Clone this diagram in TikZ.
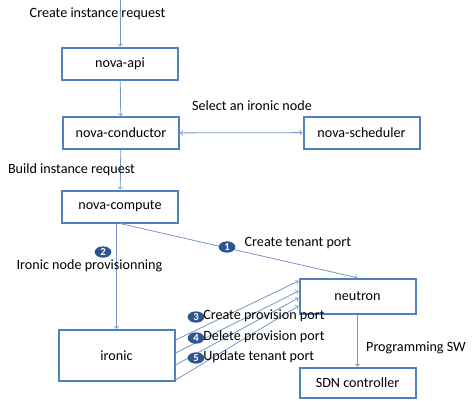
\documentclass[tikz,border=0pt]{standalone}
\usepackage{fontspec}
\setmainfont{Carlito}
\usepackage{tikz}
\usetikzlibrary{shapes.geometric}
\definecolor{boxblue}{RGB}{79, 129, 189}
\definecolor{arrowblue}{RGB}{120, 150, 200}
\definecolor{badgeblue}{RGB}{45, 85, 145}

\tikzset{
  box/.style={draw=boxblue, line width=1.5pt, minimum width=87pt,
              minimum height=24pt},
  link/.style={->, color=arrowblue, line width=0.6pt},
  badge/.style={ellipse, fill=badgeblue, text=white, inner sep=0pt,
                minimum width=12.5pt, minimum height=8.5pt,
                font=\fontsize{8}{8}\selectfont\bfseries}
}

\begin{document}
\begin{tikzpicture}[x=0.75pt, y=-0.75pt, font=\fontsize{10.6}{13}\selectfont]
  \useasboundingbox (0, 0) rectangle (474, 400);

  % the boxes
  \node [box] (api) at (120, 63.5) {nova-api};
  \node [box] (conductor) at (121, 133) {nova-conductor};
  \node [box] (compute) at (120, 206.5) {nova-compute};
  \node [box] (scheduler) at (361.5, 132.5) {nova-scheduler};
  \node [box, minimum height=26.5pt] (neutron) at (357.5, 296.5) {neutron};
  \node [box, minimum height=38.5pt] (ironic) at (116.5, 355.5) {ironic};
  \node [box, minimum height=22.5pt] (sdn) at (357.5, 382.5) {SDN controller};

  % the links
  \coordinate (start) at (120, 0);
  \draw [link] (start) -- (api);
  \draw [link] (api) -- (conductor);
  \draw [link, <->] (conductor) -- (scheduler);
  \draw [link] (conductor) -- (compute);
  \draw [link] (compute.south) -- (neutron.north);
  \draw [link] (compute.south -| ironic.north) -- (ironic.north);
  \draw [link] (neutron) -- (sdn);
  \foreach \from/\to in {11.6/11.6, 1.9/4.1, -7.1/-1.1, -18.4/-7.1} {
    \draw [link] ([yshift=\from pt]ironic.east) -- ([yshift=\to pt]neutron.west);
  }

  % the labels
  \node (request) at (97.5, 14) {Create instance request};
  \node (select) at (252, 106) {Select an ironic node};
  \node (build) at (71.5, 170) {Build instance request};
  \node [badge] (b1) at (227, 247) {1};
  \node [right] (tenant) at (240, 243) {Create tenant port};
  \node [badge] (b2) at (103, 252) {2};
  \node (provisioning) at (89.5, 266) {Ironic node provisionning};
  \node (programming) at (416, 348) {Programming SW};
  \foreach \n/\y/\t in {3/317/Create provision port, 4/338/Delete provision port,
                        5/358/Update tenant port} {
    \node [badge] (b\n) at (196, \y) {\n};
    \node [right, inner sep=0pt] (port\n) at (203, \y-1) {\t};
  }

\end{tikzpicture}
\end{document}
